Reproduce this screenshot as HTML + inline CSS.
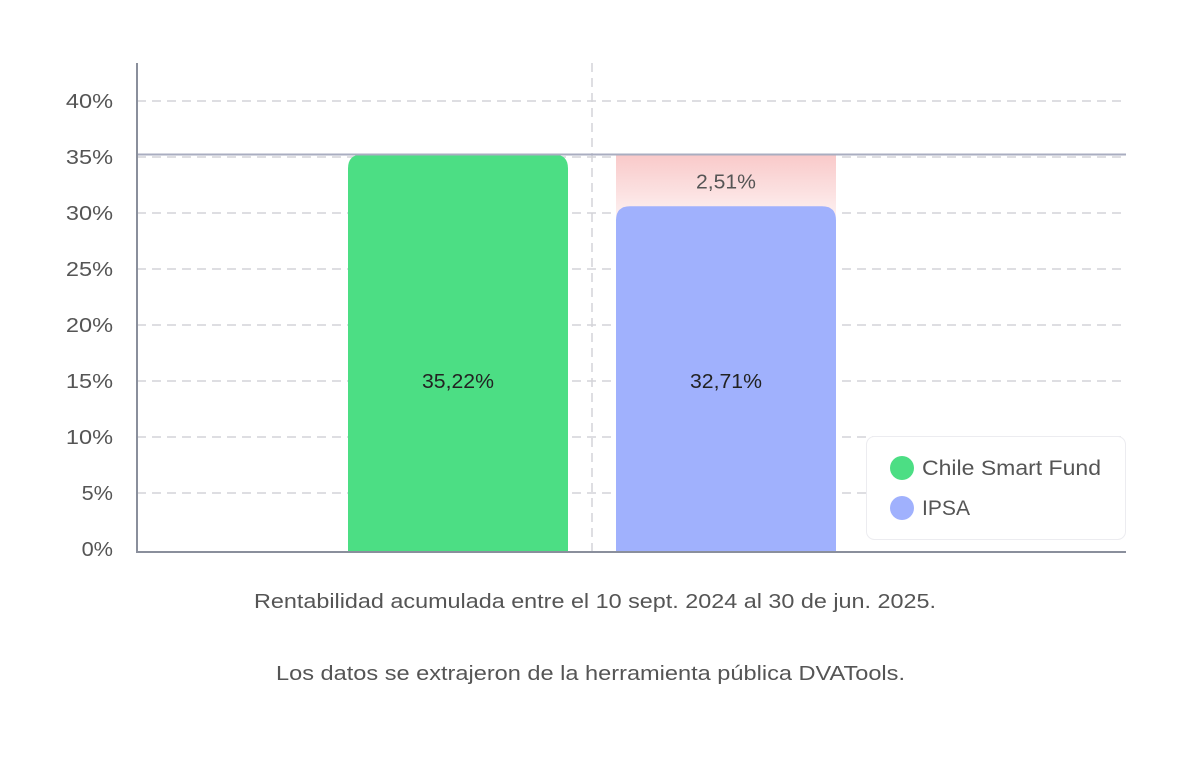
<!DOCTYPE html>
<html><head><meta charset="utf-8">
<style>
html,body{margin:0;padding:0;background:#fff;}
body{width:1180px;height:760px;overflow:hidden;font-family:"Liberation Sans",sans-serif;}
</style></head>
<body>
<svg id="chart" width="1180" height="760" xmlns="http://www.w3.org/2000/svg" font-family="Liberation Sans, sans-serif">
<defs>
<linearGradient id="diffGrad" x1="0" y1="0" x2="0" y2="1">
<stop offset="0" stop-color="#f9c9c9"/><stop offset="1" stop-color="#fdf0f0"/>
</linearGradient>
</defs>
<g id="grid"></g>
<g id="bars"></g>
<g id="axes"></g>
</svg>
<script>
const categories = ["Chile Smart Fund", "IPSA"];
const plottedValues = [35.22, 30.6];
const valueLabels = ["35,22%", "32,71%"];
const diffLabel = "2,51%";
const yTicks = [0, 5, 10, 15, 20, 25, 30, 35, 40];
const yTickLabels = ["0%", "5%", "10%", "15%", "20%", "25%", "30%", "35%", "40%"];
const colors = ["#4cde84", "#a0b1fd"];

const NS = "http://www.w3.org/2000/svg";
const X0 = 137, X1 = 1126, Y0 = 549, PX = 11.2;
function y(v){ return Y0 - v * PX; }
const barX = [348, 616], barW = 220;
function mk(tag, attrs, parent, text){
  const e = document.createElementNS(NS, tag);
  for (const k in attrs) e.setAttribute(k, attrs[k]);
  if (text !== undefined) e.textContent = text;
  parent.appendChild(e); return e;
}
const grid = document.getElementById('grid');
const bars = document.getElementById('bars');
const axes = document.getElementById('axes');

yTicks.forEach((t, i) => {
  if (t > 0) {
    const l = mk('line', {x1: X0, x2: X1, y1: y(t), y2: y(t), stroke: '#d4d4d8', 'stroke-width': 1.5, 'stroke-dasharray': '9 6'}, grid);
    
    
  }
  const lab = yTickLabels[i];
  const tx = mk('text', {x: 113, y: y(t) + 7, 'text-anchor': 'end', 'font-size': 20, fill: '#555', textLength: lab.length * 15.7, lengthAdjust: 'spacingAndGlyphs'}, axes, lab);
  
  
});
const vd = mk('line', {x1: 592, x2: 592, y1: 63, y2: 552, stroke: '#d4d4d8', 'stroke-width': 1.5, 'stroke-dasharray': '9 6'}, grid);



const topV = plottedValues[0], lowV = plottedValues[1];
const dr = mk('rect', {x: barX[1], y: y(topV), width: barW, height: y(lowV) - y(topV) + 10, fill: 'url(#diffGrad)'}, bars);


const dt = mk('text', {x: barX[1] + barW/2, y: (y(topV) + y(lowV))/2 + 8, 'text-anchor': 'middle', 'font-size': 20, fill: '#555', textLength: 60, lengthAdjust: 'spacingAndGlyphs'}, bars, diffLabel);



plottedValues.forEach((v, i) => {
  const top = y(v), r = 14;
  const p = mk('path', {d: `M${barX[i]},552 V${top + r} Q${barX[i]},${top} ${barX[i] + r},${top} H${barX[i] + barW - r} Q${barX[i] + barW},${top} ${barX[i] + barW},${top + r} V552 Z`, fill: colors[i]}, bars);
  
  
  const t = mk('text', {x: barX[i] + barW/2, y: 388, 'text-anchor': 'middle', 'font-size': 20, fill: '#222', textLength: 72, lengthAdjust: 'spacingAndGlyphs'}, bars, valueLabels[i]);
  
  
});

const ref = mk('line', {x1: X0, x2: X1, y1: y(topV), y2: y(topV), stroke: '#a9adc0', 'stroke-width': 2}, axes);


const ya = mk('line', {x1: X0, x2: X0, y1: 63, y2: 553, stroke: '#8a8f9c', 'stroke-width': 2}, axes);


const xa = mk('line', {x1: X0 - 1, x2: X1, y1: 552, y2: 552, stroke: '#8a8f9c', 'stroke-width': 2}, axes);



const lg = mk('g', {}, axes);


mk('rect', {x: 866.5, y: 436.5, width: 259, height: 103, rx: 8, fill: '#fff', stroke: '#ececf0'}, lg);
const legendWidths = [179, 48];
categories.forEach((c, i) => {
  const g = mk('g', {}, lg);
  
  
  mk('circle', {cx: 902, cy: 468 + i * 40, r: 12, fill: colors[i]}, g);
  mk('text', {x: 922, y: 475 + i * 40, 'font-size': 21, fill: '#555', textLength: legendWidths[i], lengthAdjust: 'spacingAndGlyphs'}, g, c);
});

const n1 = mk('text', {x: 254, y: 608, 'font-size': 20, fill: '#555', textLength: 682, lengthAdjust: 'spacingAndGlyphs'}, axes, 'Rentabilidad acumulada entre el 10 sept. 2024 al 30 de jun. 2025.');


const n2 = mk('text', {x: 276, y: 680, 'font-size': 20, fill: '#555', textLength: 629, lengthAdjust: 'spacingAndGlyphs'}, axes, 'Los datos se extrajeron de la herramienta pública DVATools.');


</script>
</body></html>
